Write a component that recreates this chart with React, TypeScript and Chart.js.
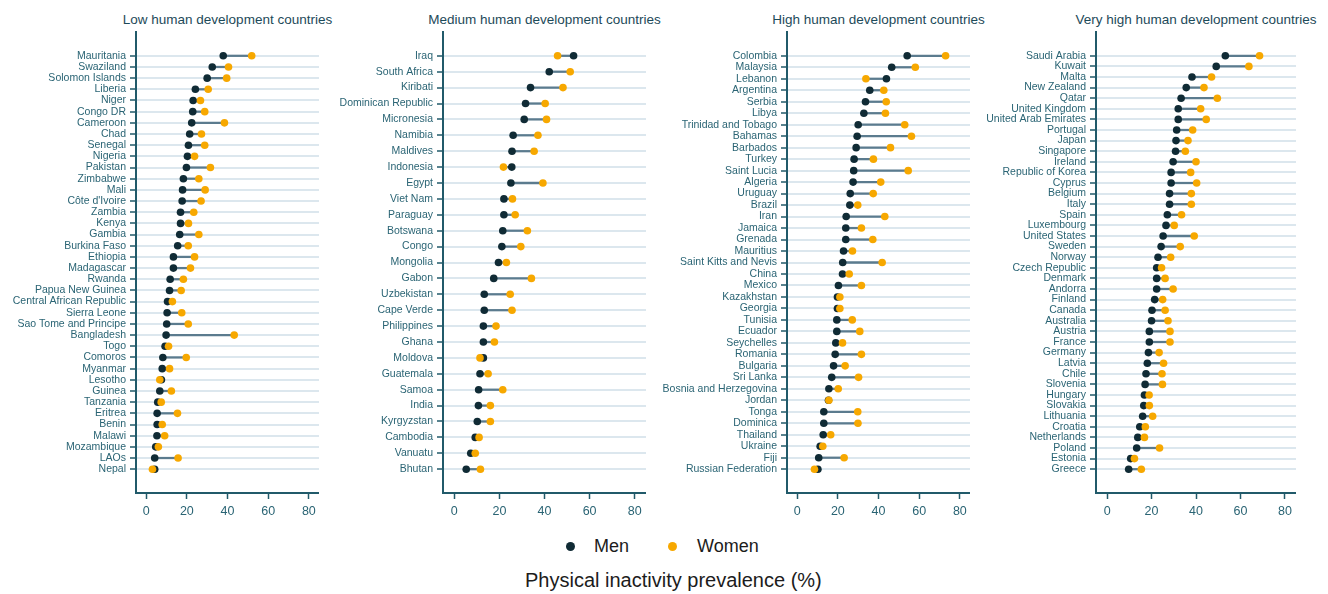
import React, { useEffect, useRef } from "react";
import { Chart, registerables } from "chart.js";

Chart.register(...registerables);

// ---- Data: physical inactivity prevalence (%) by sex ----
const lowCountries = ["Mauritania", "Swaziland", "Solomon Islands", "Liberia", "Niger", "Congo DR", "Cameroon", "Chad", "Senegal", "Nigeria", "Pakistan", "Zimbabwe", "Mali", "Côte d'Ivoire", "Zambia", "Kenya", "Gambia", "Burkina Faso", "Ethiopia", "Madagascar", "Rwanda", "Papua New Guinea", "Central African Republic", "Sierra Leone", "Sao Tome and Principe", "Bangladesh", "Togo", "Comoros", "Myanmar", "Lesotho", "Guinea", "Tanzania", "Eritrea", "Benin", "Malawi", "Mozambique", "LAOs", "Nepal"];
const lowMen = [37.9, 32.5, 30.0, 24.2, 23.1, 22.9, 22.4, 21.4, 20.8, 20.3, 19.8, 18.3, 17.9, 17.7, 16.9, 16.9, 16.5, 15.5, 13.4, 13.4, 11.8, 11.5, 10.5, 10.3, 10.1, 9.8, 9.3, 8.2, 7.9, 7.5, 6.7, 5.7, 5.4, 5.4, 5.3, 4.7, 4.2, 4.2];
const lowWomen = [51.9, 40.5, 39.6, 30.5, 26.7, 28.8, 38.5, 27.2, 28.8, 23.8, 31.6, 25.9, 29.0, 27.0, 23.4, 20.8, 25.9, 20.7, 23.8, 21.8, 18.3, 17.2, 12.9, 17.5, 20.7, 43.3, 11.0, 19.7, 11.5, 6.7, 12.4, 7.4, 15.4, 7.9, 9.1, 6.0, 15.7, 3.1];

const mediumCountries = ["Iraq", "South Africa", "Kiribati", "Dominican Republic", "Micronesia", "Namibia", "Maldives", "Indonesia", "Egypt", "Viet Nam", "Paraguay", "Botswana", "Congo", "Mongolia", "Gabon", "Uzbekistan", "Cape Verde", "Philippines", "Ghana", "Moldova", "Guatemala", "Samoa", "India", "Kyrgyzstan", "Cambodia", "Vanuatu", "Bhutan"];
const mediumMen = [52.9, 42.1, 33.8, 31.6, 31.0, 26.1, 25.6, 25.5, 25.1, 22.0, 22.0, 21.5, 21.1, 19.6, 17.5, 13.3, 13.3, 12.9, 12.9, 12.9, 11.4, 10.8, 10.7, 10.2, 9.3, 7.3, 5.3];
const mediumWomen = [45.8, 51.4, 48.2, 40.3, 40.9, 37.1, 35.4, 21.8, 39.3, 25.8, 27.0, 32.4, 29.5, 23.1, 34.2, 24.8, 25.6, 18.5, 17.8, 11.4, 15.0, 21.5, 16.0, 16.0, 11.0, 9.3, 11.6];

const highCountries = ["Colombia", "Malaysia", "Lebanon", "Argentina", "Serbia", "Libya", "Trinidad and Tobago", "Bahamas", "Barbados", "Turkey", "Saint Lucia", "Algeria", "Uruguay", "Brazil", "Iran", "Jamaica", "Grenada", "Mauritius", "Saint Kitts and Nevis", "China", "Mexico", "Kazakhstan", "Georgia", "Tunisia", "Ecuador", "Seychelles", "Romania", "Bulgaria", "Sri Lanka", "Bosnia and Herzegovina", "Jordan", "Tonga", "Dominica", "Thailand", "Ukraine", "Fiji", "Russian Federation"];
const highMen = [54.1, 46.5, 43.9, 35.7, 33.6, 32.8, 30.0, 29.5, 29.0, 28.0, 27.8, 27.5, 26.1, 25.9, 24.1, 23.9, 23.9, 22.8, 22.4, 22.3, 20.3, 19.8, 19.8, 19.5, 19.5, 19.0, 18.7, 17.9, 17.0, 15.6, 15.4, 13.1, 13.1, 12.8, 11.3, 10.6, 10.2];
const highWomen = [73.0, 58.1, 33.8, 42.6, 43.8, 43.4, 52.9, 56.2, 45.9, 37.5, 54.6, 41.1, 37.4, 29.8, 43.1, 31.6, 37.2, 27.2, 41.8, 25.6, 31.6, 21.0, 21.0, 27.1, 30.8, 22.3, 31.6, 23.6, 30.2, 20.2, 15.6, 29.8, 29.9, 16.5, 12.6, 23.1, 8.5];

const veryHighCountries = ["Saudi Arabia", "Kuwait", "Malta", "New Zealand", "Qatar", "United Kingdom", "United Arab Emirates", "Portugal", "Japan", "Singapore", "Ireland", "Republic of Korea", "Cyprus", "Belgium", "Italy", "Spain", "Luxembourg", "United States", "Sweden", "Norway", "Czech Republic", "Denmark", "Andorra", "Finland", "Canada", "Australia", "Austria", "France", "Germany", "Latvia", "Chile", "Slovenia", "Hungary", "Slovakia", "Lithuania", "Croatia", "Netherlands", "Poland", "Estonia", "Greece"];
const veryHighMen = [53.2, 49.1, 38.2, 35.6, 33.3, 32.0, 32.0, 31.3, 31.0, 30.8, 29.7, 28.8, 28.8, 28.1, 28.1, 27.1, 26.5, 25.2, 24.3, 22.9, 22.3, 22.3, 22.3, 21.4, 20.2, 20.0, 19.0, 19.0, 18.6, 18.1, 17.5, 17.1, 16.8, 16.5, 16.0, 14.7, 13.8, 13.3, 10.6, 9.7];
const veryHighWomen = [68.6, 63.8, 47.0, 43.6, 49.6, 42.1, 44.6, 38.5, 36.4, 35.2, 40.0, 37.6, 40.3, 37.9, 37.9, 33.5, 30.2, 39.2, 32.9, 28.6, 24.5, 26.1, 29.7, 25.0, 26.1, 27.4, 28.3, 28.3, 23.4, 25.4, 24.7, 24.9, 18.9, 19.0, 20.5, 17.2, 16.8, 23.6, 12.3, 15.4];

const xTickValues = [0, 20, 40, 60, 80];
const X_MIN = -5;
const X_MAX = 85;

// ---- Styling ----
const FONT = "'Liberation Sans', Arial, Helvetica, sans-serif";
const MEN_COLOR = "#102b35";
const WOMEN_COLOR = "#f7a800";
const LINK_COLOR = "#5b7b8e";
const GRID_COLOR = "#dce7ee";
const AXIS_COLOR = "#215a6a";
const LABEL_COLOR = "#2a6474";
const TITLE_COLOR = "#1d4a59";

const CANVAS_H = 530;
const AREA_TOP = 32;
const Y_AXIS_W = 130;
const X_AXIS_H = 30;
const BOTTOM_PAD = 7;
const EDGE_GAP = 23.8; // distance from plot edge to first/last row
const ROW_SPAN = 413.3; // distance between first and last row

type PanelProps = {
  title: string;
  countries: string[];
  men: number[];
  women: number[];
  left: number;
  width: number;
};

function Panel({ title, countries, men, women, left, width }: PanelProps) {
  const ref = useRef<HTMLCanvasElement>(null);

  useEffect(() => {
    const n = countries.length;
    const pad = (EDGE_GAP * (n - 1)) / ROW_SPAN;
    const chart = new Chart(ref.current as HTMLCanvasElement, {
      type: "scatter",
      data: {
        datasets: [
          {
            type: "scatter",
            label: "Women",
            data: women.map((v, i) => ({ x: v, y: i })),
            pointRadius: 3.8,
            pointHoverRadius: 3.8,
            pointBackgroundColor: WOMEN_COLOR,
            pointBorderWidth: 0,
            order: 0,
          } as any,
          {
            type: "scatter",
            label: "Men",
            data: men.map((v, i) => ({ x: v, y: i })),
            pointRadius: 3.8,
            pointHoverRadius: 3.8,
            pointBackgroundColor: MEN_COLOR,
            pointBorderWidth: 0,
            order: 1,
          } as any,
          {
            // thin floating bar joining the two values of each country
            type: "bar",
            label: "gap",
            indexAxis: "y",
            data: men.map((v, i) => ({ y: i, x: [v, women[i]] })),
            backgroundColor: LINK_COLOR,
            borderWidth: 0,
            barThickness: 1.6,
            order: 2,
          } as any,
        ],
      },
      options: {
        animation: false,
        responsive: false,
        maintainAspectRatio: false,
        layout: {
          autoPadding: false,
          padding: { top: AREA_TOP, bottom: BOTTOM_PAD, left: 0, right: 0 },
        },
        plugins: {
          legend: { display: false },
          tooltip: { enabled: false },
          title: { display: false },
        },
        scales: {
          x: {
            type: "linear",
            min: X_MIN,
            max: X_MAX,
            offset: false,
            afterBuildTicks: (s: any) => {
              s.ticks = xTickValues.map((v) => ({ value: v }));
            },
            afterFit: (s: any) => {
              s.height = X_AXIS_H;
              s.paddingLeft = 0;
              s.paddingRight = 0;
            },
            grid: {
              drawOnChartArea: false,
              drawTicks: true,
              tickLength: 6,
              tickColor: AXIS_COLOR,
              tickWidth: 1.5,
              offset: false,
            },
            border: { display: true, color: AXIS_COLOR, width: 2 },
            ticks: {
              color: LABEL_COLOR,
              font: { family: FONT, size: 12.5 },
              padding: 5,
              maxRotation: 0,
              autoSkip: false,
            },
          },
          y: {
            type: "linear",
            reverse: true,
            min: -pad,
            max: n - 1 + pad,
            offset: false,
            afterBuildTicks: (s: any) => {
              s.ticks = countries.map((_, i) => ({ value: i }));
            },
            afterFit: (s: any) => {
              s.width = Y_AXIS_W;
              s.paddingTop = 0;
              s.paddingBottom = 0;
            },
            grid: {
              color: GRID_COLOR,
              lineWidth: 2,
              drawTicks: true,
              tickLength: 6,
              tickColor: AXIS_COLOR,
              tickWidth: 1.5,
              offset: false,
            },
            border: { display: true, color: AXIS_COLOR, width: 2 },
            ticks: {
              autoSkip: false,
              color: LABEL_COLOR,
              font: { family: FONT, size: 10.5 },
              padding: 4,
              callback: (v: any) => countries[Math.round(Number(v))] ?? "",
            },
          },
        },
      },
    });
    return () => chart.destroy();
  }, [countries, men, women]);

  const areaLeft = left + Y_AXIS_W;
  const areaCenter = areaLeft + (width - Y_AXIS_W) / 2;

  return (
    <>
      <div
        style={{
          position: "absolute",
          left: areaCenter - 200,
          top: 12,
          width: 400,
          textAlign: "center",
          fontSize: 13.5,
          lineHeight: "16px",
          color: TITLE_COLOR,
          whiteSpace: "nowrap",
        }}
      >
        {title}
      </div>
      <canvas
        ref={ref}
        width={width}
        height={CANVAS_H}
        style={{ position: "absolute", left, top: 0, width, height: CANVAS_H }}
      />
    </>
  );
}

function LegendItem({ color, label, dotX, textX }: { color: string; label: string; dotX: number; textX: number }) {
  return (
    <>
      <div
        style={{
          position: "absolute",
          left: dotX - 4.5,
          top: 546 - 4.5,
          width: 9,
          height: 9,
          borderRadius: "50%",
          background: color,
        }}
      />
      <div
        style={{
          position: "absolute",
          left: textX,
          top: 535,
          fontSize: 18,
          lineHeight: "22px",
          color: "#1c1c1c",
          whiteSpace: "nowrap",
        }}
      >
        {label}
      </div>
    </>
  );
}

export default function App() {
  return (
    <div
      style={{
        position: "absolute",
        left: 0,
        top: 0,
        width: 1328,
        height: 594,
        background: "#ffffff",
        fontFamily: FONT,
        overflow: "hidden",
      }}
    >
      <Panel title="Low human development countries" countries={lowCountries} men={lowMen} women={lowWomen} left={6} width={313} />
      <Panel title="Medium human development countries" countries={mediumCountries} men={mediumMen} women={mediumWomen} left={313} width={333} />
      <Panel title="High human development countries" countries={highCountries} men={highMen} women={highWomen} left={657} width={313} />
      <Panel title="Very high human development countries" countries={veryHighCountries} men={veryHighMen} women={veryHighWomen} left={966} width={330} />

      <LegendItem color={MEN_COLOR} label="Men" dotX={570} textX={594} />
      <LegendItem color={WOMEN_COLOR} label="Women" dotX={672} textX={697} />

      <div
        style={{
          position: "absolute",
          left: 525,
          top: 568,
          fontSize: 20,
          lineHeight: "24px",
          color: "#1c1c1c",
          whiteSpace: "nowrap",
        }}
      >
        Physical inactivity prevalence (%)
      </div>
    </div>
  );
}
